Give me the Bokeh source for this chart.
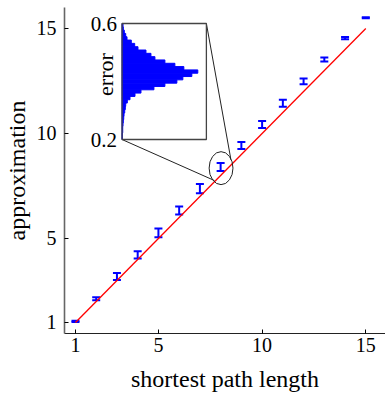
import math
from bokeh.plotting import figure
from bokeh.models import Range1d, FixedTicker, ColumnDataSource, Whisker, TeeHead
from bokeh.core.properties import value
from bokeh.embed import file_html
from bokeh.resources import INLINE

# ---- data ----
path_length = [1, 2, 3, 4, 5, 6, 7, 8, 9, 10, 11, 12, 13, 14, 15]
approx_mean = [1.05, 2.13, 3.19, 4.22, 5.27, 6.33, 7.37, 8.40, 9.43, 10.43,
               11.44, 12.48, 13.52, 14.54, 15.51]
approx_err = [0.03, 0.07, 0.17, 0.17, 0.21, 0.19, 0.22, 0.19, 0.17, 0.17,
              0.17, 0.135, 0.095, 0.055, 0.025]
x_ticks = [1, 5, 10, 15]
y_ticks = [1, 5, 10, 15]
x_title = "shortest path length"
y_title = "approximation"

# inset histogram of the error at path length 8 (bins from 0.2 to 0.6)
err_bin_start = [0.2000, 0.2114, 0.2229, 0.2343, 0.2457, 0.2571, 0.2686, 0.2800,
                 0.2914, 0.3029, 0.3143, 0.3257, 0.3371, 0.3486, 0.3600, 0.3714,
                 0.3829, 0.3943, 0.4057, 0.4171, 0.4286, 0.4400, 0.4514, 0.4629,
                 0.4743, 0.4857, 0.4971, 0.5086, 0.5200, 0.5314, 0.5429, 0.5543,
                 0.5657, 0.5771, 0.5886]
err_bin_width = 0.01143
err_counts = [3, 3, 7, 7, 10, 13, 17, 20, 27, 33, 37, 53, 80, 130, 190, 320,
              430, 550, 610, 700, 760, 620, 530, 430, 330, 290, 240, 160, 127,
              93, 50, 37, 23, 13, 10]
inset_ticks = [0.2, 0.6]
inset_tick_labels = ["0.2", "0.6"]

SERIF = value("Liberation Serif")

XR = Range1d(0.471, 15.95)
YR = Range1d(0.476, 16.0)
p = figure(width=385, height=395, x_range=XR, y_range=YR,
           output_backend="svg", toolbar_location=None,
           min_border_left=63, min_border_right=0, min_border_top=7,
           min_border_bottom=62)
p.outline_line_color = None
p.xgrid.visible = False
p.ygrid.visible = False
p.background_fill_color = "white"

for ax, ticks in ((p.xaxis, x_ticks), (p.yaxis, y_ticks)):
    ax.ticker = FixedTicker(ticks=ticks)
    ax.major_tick_in = 4
    ax.major_tick_out = 0
    ax.minor_tick_line_color = None
    ax.major_tick_line_color = "black"
    ax.major_label_text_font = "Liberation Serif"
    ax.major_label_text_font_size = "20px"
    ax.major_label_text_color = "black"
    ax.axis_label_text_font = "Liberation Serif"
    ax.axis_label_text_font_style = "normal"
    ax.axis_label_text_font_size = "24px"
    ax.axis_label_text_color = "black"

p.xaxis.axis_label = x_title
p.xaxis.major_label_standoff = 4
p.xaxis.axis_label_standoff = 11
p.xaxis.axis_line_color = "#222222"
p.xaxis.axis_line_width = 1.2

p.yaxis.axis_label = y_title
p.yaxis.major_label_standoff = 8
p.yaxis.axis_label_standoff = 4
p.yaxis.axis_line_color = "#666666"
p.yaxis.axis_line_width = 1.6

# y = x reference line
p.line(x=[path_length[0], path_length[-1]], y=[path_length[0], path_length[-1]],
       line_color="#ff0000", line_width=1.3)

# error bars
src = ColumnDataSource(dict(
    x=path_length,
    upper=[m + e for m, e in zip(approx_mean, approx_err)],
    lower=[m - e for m, e in zip(approx_mean, approx_err)],
))
p.add_layout(Whisker(base="x", upper="upper", lower="lower", source=src,
                     dimension="height", line_color="#0000ff", line_width=2,
                     upper_head=TeeHead(size=8, line_color="#0000ff", line_width=2),
                     lower_head=TeeHead(size=8, line_color="#0000ff", line_width=2)))

# zoom ellipse around the point at path length 8
ell_x, ell_y, ell_w, ell_h = 8.02, 8.35, 1.15, 1.57
p.ellipse(x=[ell_x], y=[ell_y], width=ell_w, height=ell_h,
          fill_color=None, line_color="#222222", line_width=1)

# inset placement (in main data coordinates)
ix0, ix1, iy0, iy1 = 3.245, 7.313, 9.714, 15.238
p.segment(x0=[ix0, ix1], y0=[iy0, iy1],
          x1=[ell_x - 0.56 * ell_w / 2, ell_x + 0.83 * ell_w / 2],
          y1=[ell_y - 0.75 * ell_h / 2, ell_y + 0.51 * ell_h / 2],
          line_color="#222222", line_width=1)

sub = p.subplot(x_source=Range1d(0, 846), y_source=Range1d(0.2, 0.6),
                x_target=Range1d(ix0, ix1), y_target=Range1d(iy0, iy1))
sub.quad(left=0, right=err_counts, bottom=err_bin_start,
         top=[b + err_bin_width for b in err_bin_start],
         fill_color="#0000ff", line_color="#0000ff", line_width=1)
sub.quad(left=[0], right=[846], bottom=[0.2], top=[0.6],
         fill_color=None, line_color="#444444", line_width=1.3)
sub.text(x=[-50, -50], y=inset_ticks, text=inset_tick_labels,
         text_font=SERIF, text_font_size="21px", text_color="black",
         text_align="right", text_baseline="middle")
sub.text(x=[-170], y=[0.424], text=["error"], angle=math.pi / 2,
         text_font=SERIF, text_font_size="22px", text_color="black",
         text_align="center", text_baseline="alphabetic")

open("out.html", "w").write(file_html(p, INLINE))
